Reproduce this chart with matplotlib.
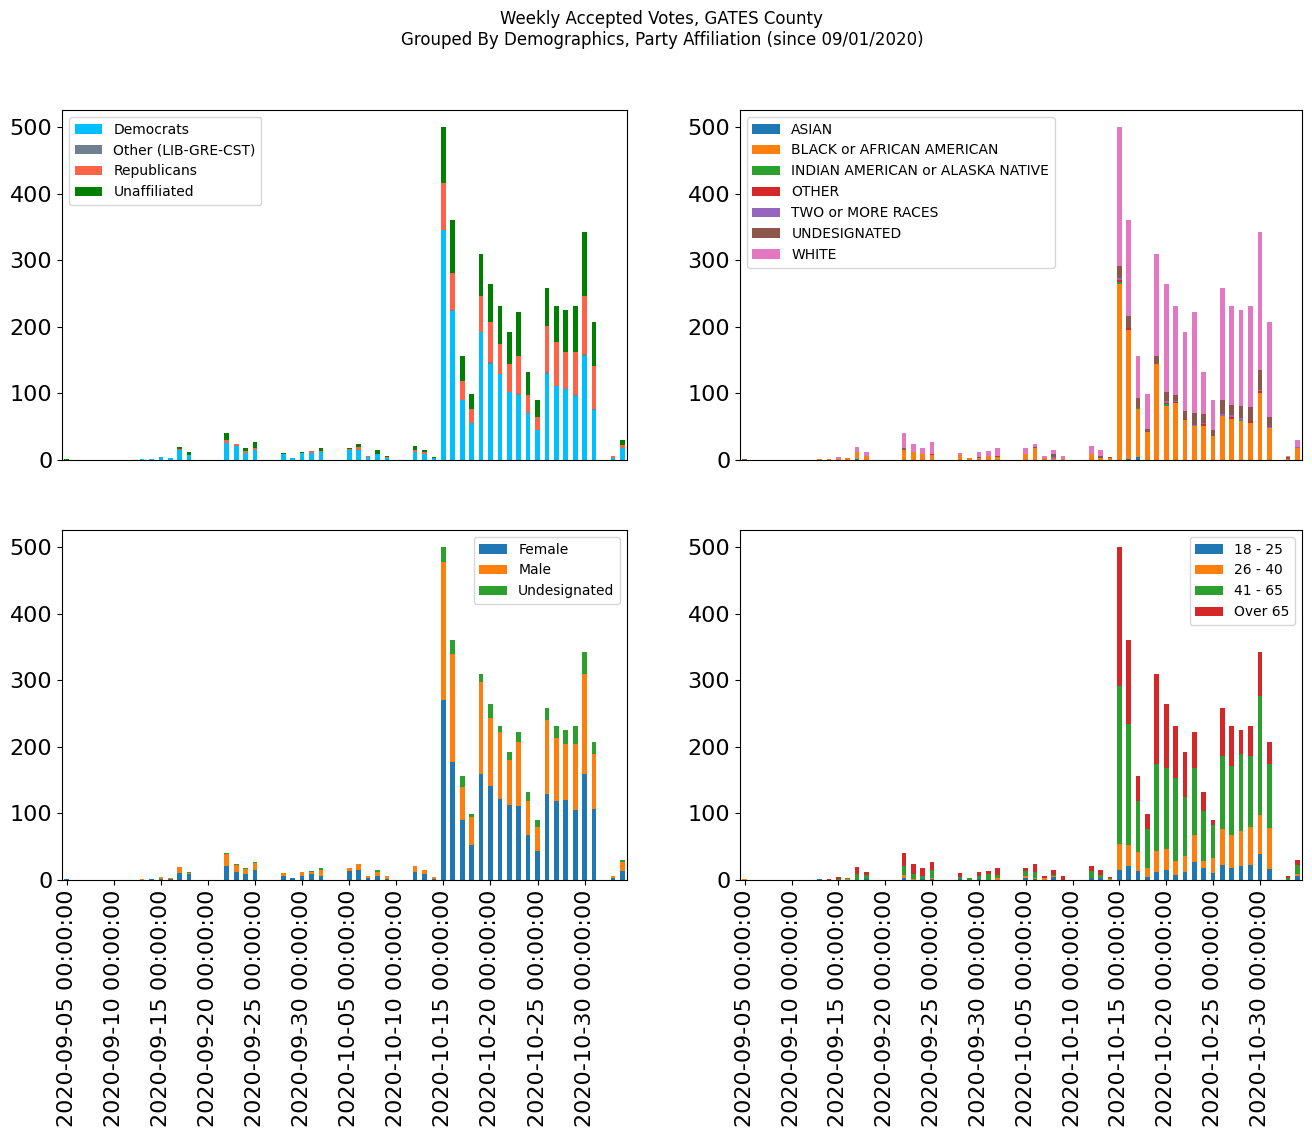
import numpy as np
import pandas as pd
import matplotlib
matplotlib.use("Agg")
import matplotlib.pyplot as plt

dates = pd.date_range("2020-09-05", periods=60, freq="D")
tick_labels = [str(d) for d in dates]

# ---- Party affiliation ----
party_names = ["Democrats", "Other (LIB-GRE-CST)", "Republicans", "Unaffiliated"]
DEM = [0,0,0,0,0,0,0,0,2,2,
       4,3,15,8,0,0,0,25,21,10,
       15,0,0,9,3,10,11,12,0,0,
       15,15,4,9,3,0,0,12,9,3,
       345,224,90,55,193,145,129,102,97,70,
       45,129,111,106,96,157,75,0,3,18]
OTH = [0,0,0,0,0,0,0,0,0,0,
       0,0,0,0,0,0,0,0,0,0,
       0,0,0,0,0,0,0,0,0,0,
       0,0,0,0,0,0,0,0,0,0,
       0,1,0,0,0,2,0,0,2,0,
       0,3,0,0,1,3,1,0,0,0]
REP = [0,0,0,0,0,0,0,0,0,0,
       0,0,2,0,0,0,0,5,3,3,
       3,0,0,0,0,0,2,1,0,0,
       2,4,2,0,1,0,0,3,3,0,
       72,56,28,21,54,60,45,43,57,27,
       20,70,67,57,66,86,66,0,3,4]
UNA = [2,0,0,0,0,0,0,0,0,0,
       0,0,2,4,0,0,0,10,0,5,
       9,0,0,2,0,2,1,5,0,0,
       1,5,0,6,2,0,0,6,3,2,
       84,79,38,23,62,57,58,48,66,36,
       25,57,54,62,68,96,66,0,0,8]
party_colors = ["deepskyblue", "slategray", "tomato", "green"]

# ---- Race ----
race_names = ["ASIAN", "BLACK or AFRICAN AMERICAN", "INDIAN AMERICAN or ALASKA NATIVE",
              "OTHER", "TWO or MORE RACES", "UNDESIGNATED", "WHITE"]
ASIAN = [0,0,0,0,0,0,0,0,0,0,
         0,0,1,0,0,0,0,0,0,0,
         0,0,0,0,0,0,0,0,0,0,
         0,0,0,0,0,0,0,0,0,0,
         0,1,4,0,0,0,0,0,0,0,
         0,0,0,0,0,0,0,0,0,0]
BLACK = [0,0,0,0,0,0,0,0,2,2,
         1,3,11,6,0,0,0,15,12,9,
         7,0,0,8,3,3,6,5,0,0,
         9,18,3,2,1,0,0,9,3,3,
         265,195,72,42,144,81,85,60,51,51,
         36,66,61,58,55,100,48,0,1,18]
INDIAN = [0,0,0,0,0,0,0,0,0,0,
          0,0,0,0,0,0,0,0,0,0,
          0,0,0,0,0,0,0,0,0,0,
          0,0,0,0,0,0,0,0,0,0,
          3,0,2,0,0,3,0,0,0,0,
          0,0,1,2,0,0,0,0,0,0]
OTHER_R = [0,0,0,0,0,0,0,0,0,0,
           0,0,0,0,0,0,0,0,0,0,
           2,0,0,0,0,0,0,0,0,0,
           0,0,0,0,0,0,0,0,0,0,
           3,3,0,0,1,1,2,1,0,3,
           0,0,3,0,3,3,0,0,0,0]
TWO = [0,0,0,0,0,0,0,0,0,0,
       0,0,0,0,0,0,0,0,0,0,
       0,0,0,0,0,0,0,0,0,0,
       0,0,0,2,0,0,0,0,0,0,
       3,0,0,0,0,3,1,0,1,1,
       0,3,2,3,0,2,1,0,1,1]
UND_R = [1,0,0,0,0,0,0,0,0,0,
         0,0,0,0,0,0,0,3,0,0,
         0,0,0,0,0,2,0,1,0,0,
         0,2,0,5,0,0,0,0,3,2,
         18,18,15,5,12,14,9,13,18,14,
         9,21,15,18,21,31,15,0,2,0]
WHITE = [1,0,0,0,0,0,0,0,0,0,
         3,0,7,6,0,0,0,22,12,9,
         18,0,0,3,0,7,8,12,0,0,
         9,4,3,6,5,0,0,12,9,0,
         209,143,63,52,152,162,135,119,152,64,
         45,169,150,144,152,206,144,0,2,11]

# ---- Gender ----
gender_names = ["Female", "Male", "Undesignated"]
FEMALE = [2,0,0,0,0,0,0,0,0,2,
          2,2,10,9,0,0,0,21,12,9,
          15,0,0,6,3,6,9,6,0,0,
          14,15,3,6,2,0,0,12,9,2,
          271,178,90,52,160,142,121,112,111,67,
          43,130,118,120,105,160,106,0,3,13]
MALE = [0,0,0,0,0,0,0,0,2,0,
        2,1,9,1,0,0,0,18,10,8,
        11,0,0,5,0,6,3,9,0,0,
        4,9,3,6,4,0,0,9,6,2,
        207,162,50,42,137,102,102,69,96,51,
        36,110,96,85,100,149,84,0,3,14]
UND_G = [0,0,0,0,0,0,0,0,0,0,
         0,0,0,2,0,0,0,1,2,1,
         1,0,0,0,0,0,2,3,0,0,
         0,0,0,3,0,0,0,0,0,1,
         23,20,16,5,12,20,9,12,15,15,
         11,19,18,20,26,33,18,0,0,3]

# ---- Age ----
age_names = ["18 - 25", "26 - 40", "41 - 65", "Over 65"]
A1825 = [0,0,0,0,0,0,0,0,2,0,
         0,0,0,1,0,0,0,3,0,1,
         1,0,0,1,0,1,0,0,0,0,
         3,1,0,4,0,0,0,3,3,0,
         15,21,13,4,12,15,7,12,27,18,
         10,22,18,21,22,39,16,0,0,6]
A2640 = [2,0,0,0,0,0,0,0,0,0,
         0,1,0,0,0,0,0,5,1,0,
         2,0,0,0,0,0,0,3,0,0,
         3,2,3,2,0,0,0,0,0,1,
         39,31,29,14,31,31,21,24,40,10,
         23,54,49,52,57,58,62,0,0,3]
A4165 = [0,0,0,0,0,0,0,0,0,0,
         1,2,9,6,0,0,0,13,8,5,
         12,0,0,3,3,5,9,5,0,0,
         8,9,0,1,0,0,0,11,5,2,
         238,183,76,58,132,123,126,88,102,75,
         49,111,105,117,108,180,97,0,3,14]
A65 = [0,0,0,0,0,0,0,0,0,2,
       3,0,10,5,0,0,0,19,15,12,
       12,0,0,7,0,6,5,10,0,0,
       4,12,3,8,6,0,0,7,7,2,
       209,125,38,23,134,95,78,69,53,30,
       8,72,60,35,44,65,33,0,3,7]

tab = plt.rcParams["axes.prop_cycle"].by_key()["color"]

W, H = 1312, 1137
fig = plt.figure(figsize=(W / 100, H / 100), dpi=100)
fig.suptitle("Weekly Accepted Votes, GATES County\nGrouped By Demographics, Party Affiliation (since 09/01/2020)",
             fontsize=12, x=0.5045, y=0.991)

def rect(x0, y0, x1, y1):
    return [x0 / W, 1 - y1 / H, (x1 - x0) / W, (y1 - y0) / H]

def stacked(ax, series, names, colors, loc, show_x):
    x = np.arange(len(dates))
    bottom = np.zeros(len(dates))
    for vals, name, c in zip(series, names, colors):
        v = np.array(vals, dtype=float)
        ax.bar(x, v, 0.5, bottom=bottom, color=c, label=name)
        bottom += v
    ax.set_xlim(-0.5, len(dates) - 0.5)
    ax.set_ylim(0, bottom.max() * 1.05)
    ax.set_yticks([0, 100, 200, 300, 400, 500])
    ax.tick_params(axis="y", labelsize=16)
    ticks = x[::5]
    if show_x:
        ax.set_xticks(ticks)
        ax.set_xticklabels([tick_labels[i] for i in ticks], rotation=90, fontsize=16)
    else:
        ax.set_xticks([])
    ax.legend(loc=loc, fontsize=10)

ax1 = fig.add_axes(rect(62, 110, 627, 460))
stacked(ax1, [DEM, OTH, REP, UNA], party_names, party_colors, "upper left", False)

ax2 = fig.add_axes(rect(740, 110, 1302, 460))
stacked(ax2, [ASIAN, BLACK, INDIAN, OTHER_R, TWO, UND_R, WHITE], race_names, tab[:7], "upper left", False)

ax3 = fig.add_axes(rect(62, 530, 627, 880))
stacked(ax3, [FEMALE, MALE, UND_G], gender_names, tab[:3], "upper right", True)

ax4 = fig.add_axes(rect(740, 530, 1302, 880))
stacked(ax4, [A1825, A2640, A4165, A65], age_names, tab[:4], "upper right", True)

fig.savefig("out.png", dpi=100)
